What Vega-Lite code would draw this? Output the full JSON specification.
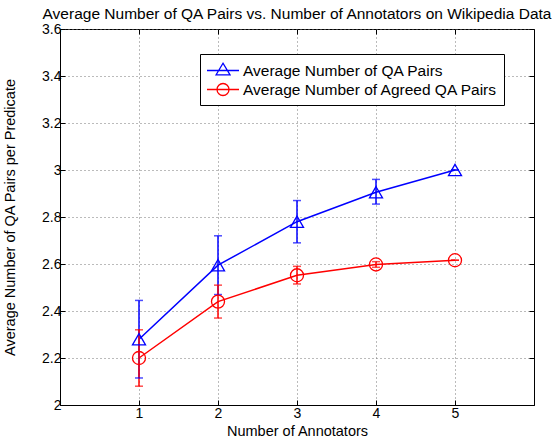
{
  "$schema": "https://vega.github.io/schema/vega-lite/v6.json",
  "width": 474,
  "height": 376,
  "autosize": {"type": "none"},
  "padding": {"left": 60, "top": 29, "right": 23, "bottom": 38},
  "title": {"text": "Average Number of QA Pairs vs. Number of Annotators on Wikipedia Data", "font": "Liberation Sans", "fontSize": 15.5, "fontWeight": "normal", "anchor": "middle", "offset": 0, "color": "black"},
  "config": {
    "view": {"stroke": "black", "strokeWidth": 1},
    "font": "Liberation Sans",
    "axis": {"labelFont": "Liberation Sans", "titleFont": "Liberation Sans", "labelFontSize": 14, "titleFontSize": 14.5, "titleFontWeight": "normal", "labelColor": "black", "titleColor": "black", "tickColor": "black", "domainColor": "black", "grid": true, "gridDash": [1, 3], "gridColor": "#777", "gridOpacity": 1, "tickSize": -5, "labelPadding": 4}
  },
  "resolve": {"axis": {"x": "independent", "y": "independent"}},
  "data": {"values": [
    {"n": 1, "series": "Average Number of QA Pairs", "v": 2.28, "lo": 2.115, "hi": 2.445},
    {"n": 2, "series": "Average Number of QA Pairs", "v": 2.595, "lo": 2.47, "hi": 2.72},
    {"n": 3, "series": "Average Number of QA Pairs", "v": 2.78, "lo": 2.69, "hi": 2.87},
    {"n": 4, "series": "Average Number of QA Pairs", "v": 2.905, "lo": 2.855, "hi": 2.96},
    {"n": 5, "series": "Average Number of QA Pairs", "v": 3.0, "lo": 3.0, "hi": 3.0},
    {"n": 1, "series": "Average Number of Agreed QA Pairs", "v": 2.2, "lo": 2.08, "hi": 2.32},
    {"n": 2, "series": "Average Number of Agreed QA Pairs", "v": 2.44, "lo": 2.37, "hi": 2.51},
    {"n": 3, "series": "Average Number of Agreed QA Pairs", "v": 2.552, "lo": 2.515, "hi": 2.59},
    {"n": 4, "series": "Average Number of Agreed QA Pairs", "v": 2.598, "lo": 2.586, "hi": 2.61},
    {"n": 5, "series": "Average Number of Agreed QA Pairs", "v": 2.616, "lo": 2.616, "hi": 2.616}
  ]},
  "encoding": {
    "color": {"field": "series", "type": "nominal", "scale": {"domain": ["Average Number of QA Pairs", "Average Number of Agreed QA Pairs"], "range": ["#0000ff", "#ff0000"]},
      "legend": {"title": null, "orient": "none", "legendX": 140, "legendY": 25, "fillColor": "white", "strokeColor": "black", "padding": 6, "cornerRadius": 0, "labelFont": "Liberation Sans", "labelFontSize": 15.5, "labelColor": "black", "labelLimit": 400, "symbolSize": 361, "symbolStrokeWidth": 1.3, "symbolFillColor": "transparent", "rowPadding": 0, "labelOffset": 16,
        "encode": {"symbols": {"update": {"shape": {"signal": "datum.value === 'Average Number of QA Pairs' ? 'M-1,0L2.37,0M-0.055,0.47L0.685,-0.76L1.425,0.47Z' : 'M-1,0L2.37,0M0.055,0A0.63,0.63 0 1,0 1.315,0A0.63,0.63 0 1,0 0.055,0Z'"}, "fillOpacity": {"value": 0}, "fill": {"value": "transparent"}}}}}}
  },
  "layer": [
    {"mark": {"type": "line", "strokeWidth": 1.5},
     "encoding": {
       "x": {"field": "n", "type": "quantitative", "scale": {"domain": [0, 6], "nice": false, "zero": false}, "axis": {"values": [1, 2, 3, 4, 5], "title": "Number of Annotators", "titlePadding": 4, "labelPadding": 6}},
       "y": {"field": "v", "type": "quantitative", "scale": {"domain": [2, 3.6], "nice": false, "zero": false}, "axis": {"values": [2, 2.2, 2.4, 2.6, 2.8, 3, 3.2, 3.4, 3.6], "format": ".1~f", "title": "Average Number of QA Pairs per Predicate", "titlePadding": 24}}}},
    {"mark": {"type": "rule", "strokeWidth": 1.5},
     "encoding": {
       "x": {"field": "n", "type": "quantitative", "axis": {"orient": "top", "values": [1, 2, 3, 4, 5], "labels": false, "grid": false, "title": null, "domain": false}},
       "y": {"field": "lo", "type": "quantitative", "axis": {"orient": "right", "values": [2, 2.2, 2.4, 2.6, 2.8, 3, 3.2, 3.4, 3.6], "labels": false, "grid": false, "title": null, "domain": false}},
       "y2": {"field": "hi"}}},
    {"mark": {"type": "tick", "orient": "horizontal", "size": 8, "thickness": 1.5},
     "encoding": {"x": {"field": "n", "type": "quantitative", "axis": null}, "y": {"field": "lo", "type": "quantitative", "axis": null}}},
    {"mark": {"type": "tick", "orient": "horizontal", "size": 8, "thickness": 1.5},
     "encoding": {"x": {"field": "n", "type": "quantitative", "axis": null}, "y": {"field": "hi", "type": "quantitative", "axis": null}}},
    {"transform": [{"filter": "datum.series === 'Average Number of QA Pairs'"}],
     "mark": {"type": "point", "shape": "triangle-up", "filled": false, "strokeWidth": 1.3, "size": 170, "opacity": 1},
     "encoding": {"x": {"field": "n", "type": "quantitative", "axis": null}, "y": {"field": "v", "type": "quantitative", "axis": null}}},
    {"transform": [{"filter": "datum.series === 'Average Number of Agreed QA Pairs'"}],
     "mark": {"type": "point", "shape": "circle", "filled": false, "strokeWidth": 1.3, "size": 170, "opacity": 1},
     "encoding": {"x": {"field": "n", "type": "quantitative", "axis": null}, "y": {"field": "v", "type": "quantitative", "axis": null}}}
  ]
}
